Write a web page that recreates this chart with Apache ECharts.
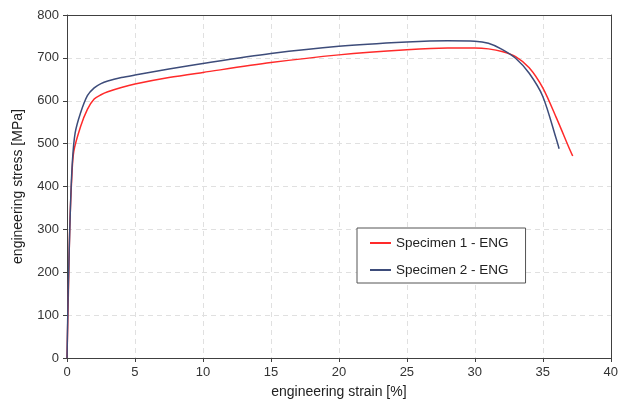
<!DOCTYPE html>
<html><head><meta charset="utf-8">
<script src="https://cdn.jsdelivr.net/npm/echarts@6/dist/echarts.min.js"></script>
<style>html,body{margin:0;padding:0;background:#fff}#c{width:621px;height:405px}</style>
</head><body><div id="c"></div>
<script>
const spec1Strain = [0,0.1,0.2,0.35,0.5,1,1.5,2,2.5,3,4,5,7.5,10,15,20,25,28,30,31,32,33,34,35,36,37,37.2];
const spec1Stress = [0,150,300,420,482,540,580,604,614,621,631,639,654,666,689,707,719,723,723,721,715,703,677,630,560,485,471];
const spec2Strain = [0,0.1,0.25,0.4,0.6,1,1.5,2,2.5,3,4,5,7.5,10,15,20,25,28,30,31,32,33,34,35,36,36.2];
const spec2Stress = [0,170,350,460,525,572,612,630,640,646,654,660,674,687,710,727,737,740,739,734,720,699,664,610,510,488];
const seriesNames = ['Specimen 1 - ENG','Specimen 2 - ENG'];
const xTicks = [0,5,10,15,20,25,30,35,40];
const yTicks = [0,100,200,300,400,500,600,700,800];

const zip = (a,b)=>a.map((v,i)=>[v,b[i]]);
const chart = echarts.init(document.getElementById('c'));
const font = 'Liberation Sans, Arial';
const axisCommon = {
  axisLine:{show:true,onZero:false,lineStyle:{color:'#404040',width:1}},
  axisTick:{show:true,length:4,lineStyle:{color:'#404040'}},
  axisLabel:{color:'#333',fontSize:13,fontFamily:font},
  splitLine:{show:true,lineStyle:{color:'#e0e0e0',type:[5,4]}},
  nameTextStyle:{color:'#222',fontSize:14,fontFamily:font}
};
const frameAxis = (pos, ticks) => ({
  type:'value', position:pos, min:ticks[0], max:ticks[ticks.length-1],
  axisLine:{show:true,onZero:false,lineStyle:{color:'#404040',width:1}},
  axisTick:{show:false}, axisLabel:{show:false}, splitLine:{show:false}, z:1
});
chart.setOption({
  animation:false,
  backgroundColor:'#fff',
  grid:{left:67,right:9,top:15,bottom:47},
  legend:{
    orient:'vertical', left:357, top:228,
    data:seriesNames, itemWidth:21, itemHeight:2, itemGap:13,
    padding:[8,17,6,13],
    borderColor:'#555', borderWidth:1, backgroundColor:'#fff',
    textStyle:{color:'#222',fontSize:13.5,fontFamily:font},
    icon:'rect'
  },
  xAxis:[Object.assign({type:'value',min:xTicks[0],max:xTicks[xTicks.length-1],interval:5,
    name:'engineering strain [%]',nameLocation:'middle',nameGap:27,z:1},axisCommon),
    frameAxis('top',xTicks)],
  yAxis:[Object.assign({type:'value',min:yTicks[0],max:yTicks[yTicks.length-1],interval:100,
    name:'engineering stress [MPa]',nameLocation:'middle',nameGap:42,z:1},axisCommon),
    frameAxis('right',yTicks)],
  series:[
    {name:seriesNames[0],type:'line',data:zip(spec1Strain,spec1Stress),showSymbol:false,smooth:0.3,
      lineStyle:{color:'#ff2a2a',width:1.5},itemStyle:{color:'#ff2a2a'}},
    {name:seriesNames[1],type:'line',data:zip(spec2Strain,spec2Stress),showSymbol:false,smooth:0.3,
      lineStyle:{color:'#3d4c7a',width:1.5},itemStyle:{color:'#3d4c7a'}}
  ]
});
</script></body></html>
